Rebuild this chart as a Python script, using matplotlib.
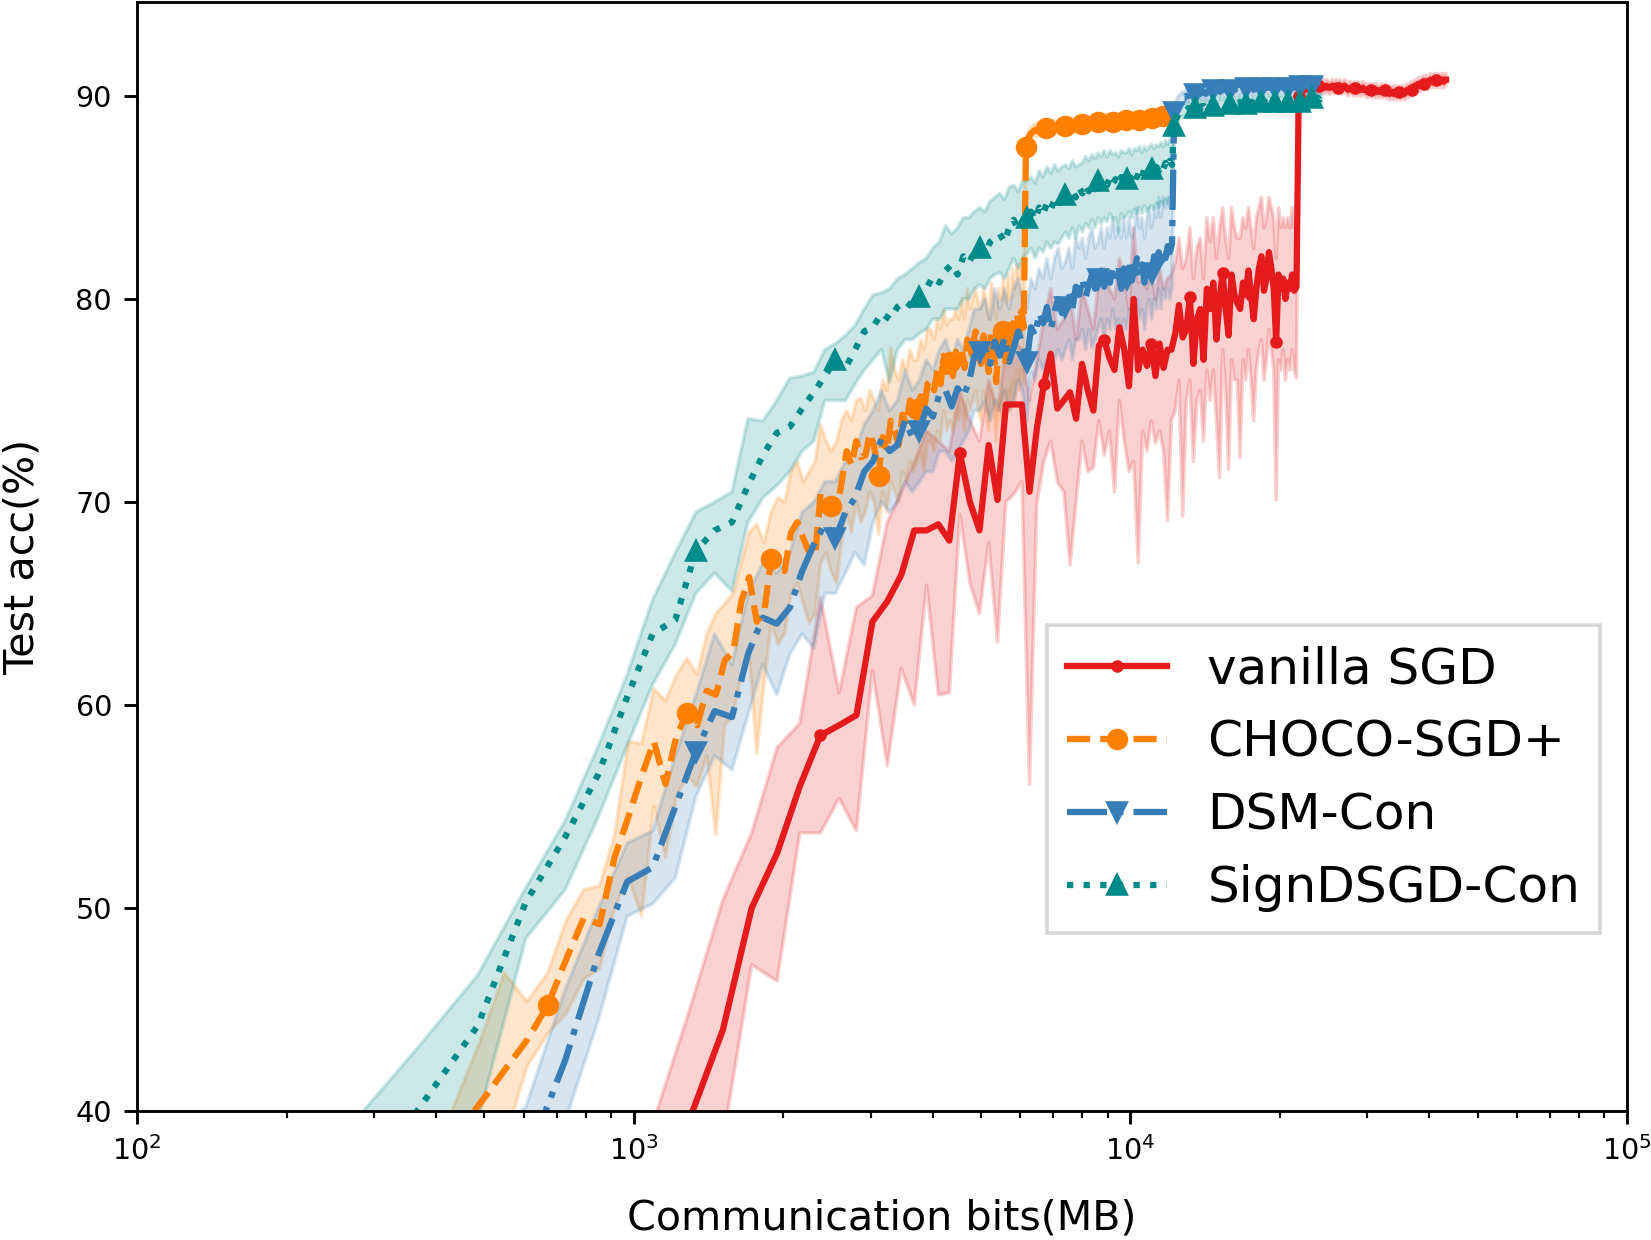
import numpy as np
import matplotlib.pyplot as plt

# 200 training epochs, lr decay at epoch 100
epochs = np.arange(1, 201)

# communication cost per epoch (MB)
mb_sgd = 216.0
mb_choco = 61.0
mb_dsm = 121.3
mb_sign = 121.3

# ---- vanilla SGD ----
sgd_acc = [
    14.0, 21.0, 27.0, 32.0, 36.0, 39.6, 44.0, 50.0, 52.7, 56.0,
    58.5, 59.0, 59.5, 64.1, 65.1, 66.4, 68.6, 68.6, 68.9, 68.1,
    72.4, 70.0, 68.6, 72.8, 70.1, 74.8, 74.8, 74.8, 70.5, 73.6,
    75.8, 77.3, 74.6, 75.0, 75.4, 74.1, 76.8, 75.5, 74.5, 77.7,
    78.0, 77.1, 76.5, 78.6, 77.5, 75.7, 80.0, 76.5, 77.5, 76.7,
    77.8, 76.2, 77.8, 76.6, 77.5, 77.5, 78.3, 79.7, 78.1, 78.5,
    80.1, 76.8, 79.0, 79.5, 77.0, 80.5, 79.5, 80.8, 78.0, 80.0,
    81.3, 79.5, 78.2, 81.2, 80.2, 79.8, 79.5, 80.8, 80.2, 81.4,
    80.2, 79.0, 80.5, 81.5, 82.1, 80.4, 81.0, 82.3, 81.5, 80.5,
    77.9, 81.2, 80.5, 81.0, 80.0, 80.8, 80.5, 81.2, 80.4, 80.6,
    90.0, 90.2, 90.3, 90.3, 90.4, 90.3, 90.4, 90.5, 90.4, 90.4,
    90.5, 90.4, 90.5, 90.4, 90.5, 90.4, 90.4, 90.5, 90.4, 90.5,
    90.4, 90.5, 90.4, 90.4, 90.5, 90.4, 90.3, 90.4, 90.4, 90.3,
    90.4, 90.3, 90.4, 90.3, 90.3, 90.4, 90.3, 90.3, 90.2, 90.3,
    90.3, 90.2, 90.3, 90.2, 90.3, 90.2, 90.2, 90.3, 90.2, 90.2,
    90.3, 90.2, 90.2, 90.1, 90.2, 90.2, 90.1, 90.2, 90.1, 90.2,
    90.2, 90.1, 90.2, 90.2, 90.1, 90.2, 90.3, 90.2, 90.3, 90.4,
    90.3, 90.4, 90.5, 90.4, 90.5, 90.6, 90.5, 90.6, 90.6, 90.7,
    90.6, 90.7, 90.7, 90.6, 90.7, 90.8, 90.7, 90.7, 90.8, 90.7,
    90.8, 90.7, 90.8, 90.8, 90.7, 90.8, 90.8, 90.7, 90.8, 90.8,
]
sgd_lo = [
    10.0, 17.0, 23.0, 28.0, 33.0, 36.0, 38.5, 47.2, 46.4, 53.7,
    53.7, 55.4, 53.8, 61.7, 57.0, 61.8, 60.0, 65.9, 60.5, 60.6,
    69.4, 66.0, 64.5, 68.0, 63.1, 70.0, 70.4, 71.0, 56.1, 69.9,
    72.0, 73.0, 71.0, 70.5, 66.9, 70.0, 73.0, 71.5, 71.7, 74.0,
    72.3, 73.5, 70.5, 75.0, 73.0, 71.5, 72.0, 67.0, 73.5, 72.5,
    74.0, 72.9, 73.5, 72.5, 69.1, 74.0, 74.5, 76.0, 69.3, 75.0,
    76.0, 72.0, 75.0, 75.5, 73.0, 76.5, 75.0, 76.5, 74.0, 71.2,
    77.5, 75.5, 71.6, 77.0, 76.0, 76.0, 72.2, 77.0, 76.0, 77.5,
    76.0, 74.0, 76.5, 77.5, 78.0, 76.0, 77.0, 78.5, 77.5, 76.5,
    70.1, 77.0, 76.5, 77.5, 76.0, 77.0, 76.5, 77.5, 76.5, 76.1,
]
sgd_hi = [
    18.0, 25.0, 31.0, 36.0, 39.0, 45.0, 50.4, 53.7, 57.9, 59.1,
    65.3, 60.6, 64.8, 65.4, 69.0, 70.5, 72.0, 73.5, 73.0, 72.5,
    75.5, 74.0, 73.0, 76.0, 74.5, 77.5, 78.0, 77.5, 75.0, 77.0,
    79.0, 80.5, 78.5, 79.0, 80.2, 78.0, 80.5, 79.5, 78.5, 81.0,
    81.5, 80.5, 80.0, 82.0, 81.0, 79.5, 83.5, 80.8, 81.0, 80.5,
    81.5, 80.0, 81.5, 80.5, 81.0, 81.2, 81.8, 83.0, 81.5, 82.0,
    83.5, 81.0, 82.5, 83.0, 81.0, 84.0, 82.8, 84.0, 82.0, 83.5,
    84.5, 83.0, 82.0, 84.5, 83.5, 83.0, 83.0, 84.0, 83.5, 84.5,
    83.5, 82.5, 84.0, 84.5, 85.0, 83.5, 84.0, 85.0, 84.5, 84.0,
    82.0, 84.5, 83.5, 84.0, 83.5, 84.0, 83.5, 84.5, 83.5, 83.5,
]

# ---- CHOCO-SGD+ ----
choco_acc = [
    12.0, 20.0, 27.0, 31.0, 34.0, 36.5, 38.5, 40.3, 42.0, 43.5,
    45.2, 47.5, 49.5, 49.2, 52.5, 54.5, 56.5, 58.2, 56.1, 58.5,
    59.6, 59.0, 60.7, 60.5, 62.2, 62.6, 65.1, 66.3, 64.1, 64.5,
    67.2, 66.7, 66.6, 68.5, 69.0, 68.2, 67.5, 67.3, 70.4, 70.2,
    69.8, 69.5, 71.0, 72.5, 71.8, 73.0, 72.2, 72.3, 73.4, 72.7,
    71.3, 73.2, 72.5, 74.0, 73.5, 72.8, 74.3, 73.8, 75.0, 74.4,
    74.6, 75.2, 74.5, 75.8, 76.0, 75.5, 76.5, 75.8, 77.2, 76.4,
    76.9, 76.2, 77.4, 76.8, 77.6, 76.6, 78.0, 77.2, 77.8, 78.4,
    77.5, 76.8, 78.2, 77.4, 76.4, 78.3, 77.6, 75.9, 77.8, 77.0,
    78.4, 76.8, 78.6, 77.3, 78.8, 77.8, 79.2, 78.4, 79.4, 78.6,
    87.5, 87.9, 88.1, 88.2, 88.3, 88.3, 88.4, 88.4, 88.3, 88.4,
    88.4, 88.5, 88.4, 88.5, 88.5, 88.4, 88.5, 88.5, 88.6, 88.5,
    88.5, 88.6, 88.5, 88.6, 88.6, 88.5, 88.6, 88.6, 88.7, 88.6,
    88.6, 88.7, 88.6, 88.7, 88.6, 88.7, 88.7, 88.6, 88.7, 88.7,
    88.7, 88.7, 88.8, 88.7, 88.7, 88.8, 88.7, 88.7, 88.8, 88.7,
    88.7, 88.8, 88.8, 88.7, 88.8, 88.8, 88.7, 88.8, 88.8, 88.8,
    88.8, 88.8, 88.7, 88.8, 88.8, 88.8, 88.8, 88.9, 88.8, 88.8,
    88.8, 88.9, 88.8, 88.9, 88.9, 88.8, 88.9, 88.9, 88.9, 88.9,
    88.9, 89.0, 88.9, 89.0, 89.0, 89.0, 89.0, 89.1, 89.0, 89.1,
    89.0, 89.1, 89.1, 89.2, 89.1, 89.2, 89.2, 89.3, 89.2, 89.3,
]
choco_lo = [
    8.0, 16.0, 23.0, 27.0, 30.0, 32.5, 35.0, 37.0, 38.5, 42.2,
    43.8, 44.8, 46.5, 47.0, 50.0, 51.5, 49.6, 55.0, 52.5, 55.5,
    56.5, 56.0, 57.5, 53.6, 59.0, 59.5, 61.5, 62.5, 57.6, 61.0,
    64.0, 63.0, 63.5, 65.5, 66.0, 65.0, 64.0, 64.5, 67.0, 67.5,
    66.5, 66.0, 68.0, 69.5, 68.5, 70.0, 69.0, 69.5, 70.5, 70.0,
    68.4, 70.5, 69.5, 71.0, 70.5, 70.0, 71.5, 71.0, 72.0, 71.5,
    72.0, 72.5, 71.5, 73.0, 73.0, 72.5, 73.5, 73.0, 74.5, 73.5,
    74.0, 73.5, 74.5, 74.0, 75.0, 73.5, 75.0, 74.5, 75.0, 75.5,
    74.5, 74.0, 75.5, 74.5, 73.5, 75.5, 74.5, 73.0, 75.0, 74.0,
    75.5, 74.0, 75.5, 74.5, 76.0, 75.0, 76.5, 75.5, 76.5, 75.8,
]
choco_hi = [
    16.0, 24.0, 31.0, 35.0, 38.0, 40.0, 39.8, 43.3, 46.8, 45.4,
    46.8, 49.4, 50.9, 51.1, 53.6, 58.2, 58.1, 60.8, 60.2, 61.5,
    62.3, 61.5, 63.5, 64.5, 65.0, 65.5, 67.0, 68.5, 68.9, 68.0,
    69.5, 70.2, 70.0, 71.5, 72.0, 71.0, 71.5, 72.0, 73.8, 73.0,
    72.5, 73.0, 74.0, 74.5, 74.0, 75.0, 75.1, 74.5, 75.5, 75.0,
    74.5, 76.0, 75.5, 77.6, 76.5, 76.0, 77.0, 76.5, 77.5, 77.0,
    77.0, 78.0, 77.5, 78.5, 78.5, 78.0, 79.0, 78.5, 79.5, 78.7,
    79.0, 79.0, 79.5, 79.0, 80.0, 79.0, 80.5, 79.5, 80.0, 80.5,
    79.8, 79.5, 80.5, 80.0, 79.0, 80.8, 80.2, 79.0, 80.5, 80.0,
    81.0, 79.8, 81.2, 80.0, 81.5, 80.5, 81.7, 81.0, 81.8, 81.2,
]

# ---- DSM-Con ----
dsm_acc = [
    18.0, 27.0, 32.0, 35.5, 37.5, 42.5, 47.7, 51.3, 52.0, 55.0,
    57.7, 59.7, 59.4, 62.5, 64.3, 64.0, 64.8, 66.6, 67.9, 68.9,
    68.2, 69.5, 70.2, 71.5, 72.0, 73.1, 72.5, 72.8, 74.0, 73.2,
    73.5, 74.6, 74.2, 75.3, 75.5, 74.7, 75.6, 75.2, 75.9, 77.2,
    77.4, 77.6, 76.8, 77.9, 77.2, 78.1, 76.9, 77.6, 78.4, 77.8,
    76.9, 78.6, 78.2, 79.3, 78.8, 79.6, 78.5, 79.4, 80.0, 79.3,
    79.6, 80.3, 79.5, 80.6, 80.2, 81.0, 80.1, 80.7, 81.2, 80.5,
    81.0, 81.4, 80.6, 81.2, 80.8, 81.6, 80.9, 81.3, 80.5, 81.5,
    81.0, 81.8, 80.9, 81.4, 82.0, 81.1, 81.7, 80.8, 81.6, 81.9,
    81.3, 82.1, 81.5, 82.3, 81.7, 82.4, 82.0, 82.6, 82.3, 82.7,
    89.2, 89.5, 89.7, 89.8, 89.9, 89.9, 90.0, 90.0, 90.1, 90.0,
    90.1, 90.1, 90.2, 90.1, 90.2, 90.2, 90.1, 90.2, 90.3, 90.2,
    90.3, 90.2, 90.3, 90.3, 90.2, 90.3, 90.3, 90.4, 90.3, 90.3,
    90.3, 90.4, 90.3, 90.3, 90.4, 90.3, 90.4, 90.4, 90.3, 90.4,
    90.4, 90.3, 90.4, 90.4, 90.4, 90.3, 90.4, 90.4, 90.4, 90.4,
    90.4, 90.4, 90.3, 90.4, 90.4, 90.4, 90.4, 90.5, 90.4, 90.4,
    90.4, 90.4, 90.5, 90.4, 90.4, 90.5, 90.4, 90.4, 90.5, 90.4,
    90.4, 90.5, 90.4, 90.5, 90.5, 90.4, 90.5, 90.5, 90.4, 90.5,
    90.5, 90.5, 90.4, 90.5, 90.5, 90.5, 90.5, 90.6, 90.5, 90.5,
    90.5, 90.6, 90.5, 90.5, 90.6, 90.6, 90.5, 90.6, 90.6, 90.6,
]
dsm_lo = [
    14.0, 23.0, 28.0, 31.5, 34.5, 39.5, 44.5, 49.6, 50.2, 51.5,
    55.5, 57.5, 56.8, 59.5, 62.0, 60.5, 62.5, 63.5, 62.8, 65.5,
    65.5, 66.5, 67.5, 66.9, 69.0, 70.0, 69.5, 70.0, 71.0, 70.5,
    71.0, 71.5, 71.5, 72.5, 72.5, 72.0, 72.5, 73.0, 73.5, 74.5,
    74.5, 75.0, 74.0, 75.0, 74.5, 75.5, 74.5, 75.0, 76.0, 75.5,
    74.0, 76.4, 76.0, 77.0, 76.5, 77.0, 76.0, 77.0, 77.5, 77.0,
    77.5, 78.0, 77.0, 78.0, 78.0, 78.5, 77.5, 78.5, 77.6, 78.0,
    78.5, 79.0, 78.0, 79.0, 78.5, 79.5, 78.5, 79.0, 78.0, 79.0,
    78.5, 79.5, 78.5, 79.0, 80.0, 79.0, 79.5, 78.5, 79.5, 80.0,
    79.0, 80.0, 79.5, 80.5, 79.5, 80.5, 80.0, 80.5, 80.0, 80.5,
]
dsm_hi = [
    22.0, 31.0, 36.0, 38.5, 40.2, 46.0, 50.0, 53.2, 53.8, 57.5,
    60.5, 63.5, 62.0, 65.5, 67.0, 66.5, 67.5, 69.5, 70.0, 71.0,
    71.0, 72.0, 72.5, 73.8, 74.5, 75.5, 74.5, 75.0, 76.5, 75.5,
    76.0, 77.0, 76.5, 77.5, 78.0, 77.0, 78.0, 77.5, 78.5, 79.5,
    79.5, 80.0, 79.0, 80.5, 79.5, 80.5, 79.5, 80.5, 81.0, 80.0,
    79.5, 81.0, 80.5, 81.5, 81.0, 82.0, 81.0, 82.0, 82.5, 81.5,
    81.8, 82.5, 81.5, 83.0, 82.5, 83.0, 82.0, 83.0, 83.5, 82.5,
    82.8, 83.5, 82.5, 83.5, 83.0, 84.0, 83.0, 83.5, 83.0, 84.0,
    83.0, 84.0, 83.0, 83.5, 84.5, 83.5, 84.0, 83.0, 84.0, 84.5,
    83.5, 84.5, 84.0, 85.0, 84.0, 85.0, 84.5, 85.0, 84.5, 85.0,
]

# ---- SignDSGD-Con ----
sign_acc = [
    20.0, 33.0, 39.9, 44.2, 50.3, 53.5, 56.6, 60.4, 63.5, 64.2,
    67.6, 68.6, 69.0, 70.8, 72.3, 73.4, 73.7, 74.6, 75.4, 76.2,
    77.0, 76.6, 77.5, 78.4, 78.6, 79.3, 79.0, 79.6, 79.9, 79.6,
    80.1, 80.5, 81.1, 80.8, 81.4, 81.7, 81.2, 82.1, 81.8, 82.3,
    82.5, 82.2, 82.8, 83.0, 83.2, 82.8, 83.5, 83.9, 83.4, 83.8,
    84.0, 84.3, 83.9, 84.5, 84.2, 84.7, 84.4, 84.9, 84.6, 85.0,
    85.1, 84.8, 85.3, 85.0, 85.5, 85.2, 85.6, 85.3, 85.7, 85.4,
    85.8, 85.5, 85.9, 85.6, 86.0, 85.7, 85.9, 85.6, 86.0, 85.8,
    85.9, 86.1, 85.8, 86.2, 86.0, 86.3, 86.0, 86.4, 86.1, 86.3,
    86.4, 86.2, 86.5, 86.3, 86.6, 86.4, 86.7, 86.5, 86.8, 86.6,
    88.5, 88.9, 89.1, 89.2, 89.3, 89.3, 89.3, 89.4, 89.3, 89.4,
    89.4, 89.4, 89.5, 89.4, 89.5, 89.5, 89.4, 89.5, 89.5, 89.5,
    89.5, 89.6, 89.5, 89.5, 89.6, 89.5, 89.6, 89.6, 89.5, 89.6,
    89.6, 89.6, 89.5, 89.6, 89.6, 89.6, 89.7, 89.6, 89.6, 89.6,
    89.6, 89.7, 89.6, 89.6, 89.7, 89.6, 89.6, 89.7, 89.6, 89.7,
    89.7, 89.6, 89.7, 89.7, 89.6, 89.7, 89.7, 89.7, 89.6, 89.7,
    89.7, 89.7, 89.6, 89.7, 89.7, 89.7, 89.7, 89.6, 89.7, 89.7,
    89.7, 89.7, 89.8, 89.7, 89.7, 89.7, 89.8, 89.7, 89.7, 89.8,
    89.7, 89.8, 89.7, 89.8, 89.8, 89.7, 89.8, 89.8, 89.8, 89.8,
    89.9, 89.8, 89.8, 89.9, 89.8, 89.9, 89.9, 89.8, 89.9, 89.9,
]
sign_lo = [
    15.0, 28.0, 36.0, 39.5, 48.5, 50.9, 54.5, 58.0, 61.0, 63.0,
    65.5, 66.5, 65.6, 69.0, 70.2, 70.8, 71.5, 72.5, 73.0, 75.0,
    75.0, 75.0, 75.8, 76.5, 77.0, 77.5, 75.9, 77.5, 78.0, 78.0,
    78.3, 78.5, 79.0, 79.0, 79.5, 79.5, 79.5, 80.0, 80.0, 80.5,
    80.7, 80.5, 81.0, 81.2, 81.3, 81.0, 81.5, 82.0, 81.5, 82.0,
    82.2, 82.5, 82.0, 82.5, 82.3, 82.8, 82.5, 82.8, 82.7, 83.0,
    83.3, 83.0, 83.5, 83.0, 83.6, 83.3, 83.7, 83.5, 83.9, 83.5,
    84.0, 83.7, 84.0, 83.8, 84.2, 83.9, 84.0, 83.3, 84.2, 84.0,
    84.1, 84.3, 84.0, 84.4, 84.2, 84.5, 84.2, 84.6, 84.3, 84.5,
    84.6, 84.4, 84.7, 84.5, 84.8, 84.6, 84.9, 84.7, 85.0, 84.8,
]
sign_hi = [
    25.0, 38.0, 43.0, 46.7, 51.0, 54.3, 58.0, 61.5, 65.2, 67.5,
    69.5, 70.0, 70.5, 74.1, 74.0, 75.0, 76.1, 76.2, 76.4, 77.5,
    77.8, 78.2, 78.7, 79.5, 80.2, 80.3, 80.5, 81.0, 81.2, 81.5,
    81.8, 82.0, 82.5, 82.8, 83.6, 83.2, 83.5, 84.0, 84.0, 84.3,
    84.5, 84.3, 84.8, 85.0, 85.2, 84.9, 85.5, 85.6, 85.3, 85.8,
    85.8, 86.0, 85.7, 86.3, 86.0, 86.5, 86.2, 86.6, 86.3, 86.5,
    86.6, 86.4, 86.8, 86.5, 86.6, 86.7, 87.0, 86.8, 87.1, 86.9,
    87.2, 87.0, 87.3, 87.0, 87.3, 87.1, 87.2, 87.0, 87.3, 87.2,
    87.2, 87.4, 87.1, 87.4, 87.3, 87.5, 87.2, 87.5, 87.3, 87.5,
    87.6, 87.4, 87.6, 87.5, 87.7, 87.5, 87.8, 87.6, 87.9, 87.7,
]

# half width of the shaded band after the lr decay (epochs 101-200)
band_after_decay = 0.3

series = [
    ('vanilla SGD', mb_sgd, sgd_acc, sgd_lo, sgd_hi, '#e41a1c', '-', '.'),
    ('CHOCO-SGD+', mb_choco, choco_acc, choco_lo, choco_hi, '#ff7f00', '--', 'o'),
    ('DSM-Con', mb_dsm, dsm_acc, dsm_lo, dsm_hi, '#377eb8', '-.', 'v'),
    ('SignDSGD-Con', mb_sign, sign_acc, sign_lo, sign_hi, 'darkcyan', ':', '^'),
]

fig, ax = plt.subplots(figsize=(1651 / 258, 1240 / 258), dpi=258)
fig.subplots_adjust(left=0.083, right=0.9855, bottom=0.104, top=0.998)

for name, cost, acc, lo, hi, color, ls, marker in series:
    x = cost * epochs
    acc = np.array(acc)
    lo = np.r_[lo, acc[100:] - band_after_decay]
    hi = np.r_[hi, acc[100:] + band_after_decay]
    ax.fill_between(x, lo, hi, color=color, alpha=0.2, lw=1)
    ax.plot(x, acc, linestyle=ls, color=color, marker=marker, markevery=10,
            markersize=5, linewidth=1.75, label=name)

ax.set_xscale('log')
ax.set_xlim(1e2, 1e5)
ax.set_ylim(40, 94.6)
ax.set_xlabel('Communication bits(MB)', fontsize=11.5, labelpad=9)
ax.set_ylabel('Test acc(%)', fontsize=11.5, labelpad=9)
ax.tick_params(labelsize=8)
ax.legend(loc='lower right', bbox_to_anchor=(0.982, 0.161), borderaxespad=0,
          fontsize=14, fancybox=False)

fig.savefig('out.png', dpi=258)
